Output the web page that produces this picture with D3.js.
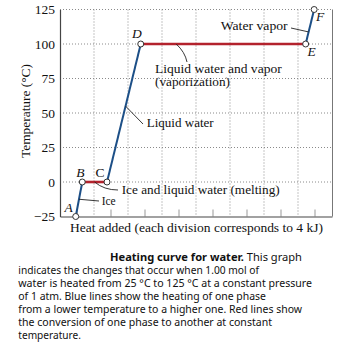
<!DOCTYPE html>
<html><head><meta charset="utf-8">
<script src="https://cdn.jsdelivr.net/npm/d3@7"></script>
<style>
body{margin:0;background:#fff;}
svg{display:block;}
</style></head>
<body>
<svg id="c" width="341" height="350"></svg>
<script>
// ---- data ----
const pointLabels = ["A", "B", "C", "D", "E", "F"];
const heatKJ = [1.85, 2.62, 5.53, 9.5, 28.9, 29.9];
const tempC = [-25, 0, 0, 100, 100, 125];
const phaseType = ["heat", "change", "heat", "change", "heat"]; // segment i: point i -> i+1
const yTicks = [-25, 0, 25, 50, 75, 100, 125];
const xDivisions = [0, 4, 8, 12, 16, 20, 24, 28, 32];
const segmentNames = ["Ice", "Ice and liquid water (melting)", "Liquid water", "Liquid water and vapor", "Water vapor"];
const captionBold = "Heating curve for water.";
const captionLines = [
  " This graph",
  "indicates the changes that occur when 1.00 mol of",
  "water is heated from 25 °C to 125 °C at a constant pressure",
  "of 1 atm. Blue lines show the heating of one phase",
  "from a lower temperature to a higher one. Red lines show",
  "the conversion of one phase to another at constant",
  "temperature."
];

const svg = d3.select("#c");
const x = d3.scaleLinear().domain([0, 32]).range([60, 332]);
const y = d3.scaleLinear().domain([-25, 125]).range([216.5, 9.5]);
const serif = "'Liberation Serif', 'Times New Roman', serif";
const FS = 13.5;
const pts = heatKJ.map((h, i) => ({h, t: tempC[i], label: pointLabels[i]}));

// grid
const g = svg.append("g");
g.selectAll("line.hg").data(yTicks.slice(1)).join("line")
  .attr("x1", x(0)).attr("x2", x(32)).attr("y1", d => y(d)).attr("y2", d => y(d))
  .attr("stroke", "#8a8a8a").attr("stroke-width", 1).attr("stroke-dasharray", "1,2");
g.selectAll("line.vg").data(xDivisions.slice(1, -1)).join("line")
  .attr("x1", d => x(d)).attr("x2", d => x(d)).attr("y1", y(125)).attr("y2", y(-25))
  .attr("stroke", "#8a8a8a").attr("stroke-width", 1).attr("stroke-dasharray", "1,2");
// minor ticks at half divisions
g.selectAll("line.mt").data(xDivisions.slice(0, -1).map(d => d + 2)).join("line")
  .attr("x1", d => x(d)).attr("x2", d => x(d)).attr("y1", y(-25)).attr("y2", y(-25) - 7)
  .attr("stroke", "#999").attr("stroke-width", 1);
// right border
g.append("line").attr("x1", x(32) + 0.5).attr("x2", x(32) + 0.5).attr("y1", y(125)).attr("y2", y(-25))
  .attr("stroke", "#777").attr("stroke-width", 1);

// axes
const yAxis = d3.axisLeft(y).tickValues(yTicks).tickSize(0).tickPadding(5)
  .tickFormat(d => d < 0 ? "\u2212" + Math.abs(d) : d);
const ya = svg.append("g").attr("transform", `translate(${x(0)},0)`).call(yAxis);
ya.select(".domain").attr("stroke", "#444").attr("stroke-width", 1.2);
ya.selectAll("text").attr("font-family", serif).attr("font-size", FS).attr("fill", "#111");
const xAxis = d3.axisBottom(x).tickValues([]).tickSize(0);
const xa = svg.append("g").attr("transform", `translate(0,${y(-25)})`).call(xAxis);
xa.select(".domain").attr("stroke", "#444").attr("stroke-width", 1.2);

svg.append("text").attr("font-family", serif).attr("font-size", FS).attr("fill", "#111")
  .attr("x", 70).attr("y", 232).attr("textLength", 253).attr("lengthAdjust", "spacingAndGlyphs")
  .text("Heat added (each division corresponds to 4 kJ)");
svg.append("text").attr("font-family", serif).attr("font-size", FS).attr("fill", "#111")
  .attr("transform", "translate(30,111) rotate(-90)").attr("text-anchor", "middle")
  .attr("textLength", 94).attr("lengthAdjust", "spacingAndGlyphs")
  .text("Temperature (\u00B0C)");

// segments
const segs = pts.slice(0, -1).map((p, i) => ({a: p, b: pts[i + 1], type: phaseType[i], name: segmentNames[i]}));
svg.selectAll("line.seg").data(segs).join("line")
  .attr("x1", d => x(d.a.h)).attr("y1", d => y(d.a.t))
  .attr("x2", d => x(d.b.h)).attr("y2", d => y(d.b.t))
  .attr("stroke", d => d.type === "heat" ? "#1c4f87" : "#b3222c")
  .attr("stroke-width", d => d.type === "heat" ? 2 : 2.6);

// point markers
svg.selectAll("circle.pt").data(pts).join("circle")
  .attr("cx", d => x(d.h)).attr("cy", d => y(d.t)).attr("r", 3)
  .attr("fill", "#fff").attr("stroke", "#333").attr("stroke-width", 1);

// point labels
const labelOff = {A: [-7, -5], B: [-2, -5.5], C: [-7, -5.5], D: [-4, -6], E: [6, 12], F: [6, 11]};
const labelItalic = {A: true, B: true, C: false, D: true, E: true, F: true};
svg.selectAll("text.pl").data(pts).join("text")
  .attr("font-family", serif).attr("font-size", FS).attr("fill", "#111")
  .attr("font-style", d => labelItalic[d.label] ? "italic" : "normal")
  .attr("text-anchor", "middle")
  .attr("x", d => x(d.h) + labelOff[d.label][0]).attr("y", d => y(d.t) + labelOff[d.label][1])
  .text(d => d.label);

// annotations: leader from a fraction along the segment to a text anchor
function along(s, f) { return [x(s.a.h) + (x(s.b.h) - x(s.a.h)) * f, y(s.a.t) + (y(s.b.t) - y(s.a.t)) * f]; }
const ann = [
  {seg: 0, f: 0.5, end: [99, 201], tx: 101.7, ty: 205, lines: ["Ice"], lens: [14], fs: FS, curve: false},
  {seg: 1, f: 0.5, mid: [104, 190], end: [118, 190], tx: 121.7, ty: 194, lines: ["Ice and liquid water (melting)"], lens: [158], fs: FS, curve: true},
  {seg: 2, f: 0.55, end: [143, 124], tx: 146.7, ty: 126.5, lines: ["Liquid water"], lens: [67], fs: FS, curve: false},
  {seg: 3, f: 0.215, mid: [185, 52], end: [187, 62], tx: 155, ty: 72.5, lines: ["Liquid water and vapor", "(vaporization)"], lens: [126.7, 75], fs: 12, curve: true},
  {seg: 4, f: 0.35, end: [291, 28], tx: 220.7, ty: 30, lines: ["Water vapor"], lens: [67], fs: FS, curve: false}
];
ann.forEach(a => {
  const s = segs[a.seg];
  const p0 = along(s, a.f);
  let path;
  if (a.curve) {
    path = `M${p0[0]},${p0[1]} Q${a.mid[0]},${a.mid[1]} ${a.end[0]},${a.end[1]}`;
  } else {
    path = `M${p0[0]},${p0[1]} L${a.end[0]},${a.end[1]}`;
  }
  svg.append("path").attr("d", path).attr("fill", "none").attr("stroke", "#222").attr("stroke-width", 0.9);
  a.lines.forEach((ln, i) => svg.append("text").attr("font-family", serif).attr("font-size", a.fs).attr("fill", "#111")
    .attr("x", a.tx).attr("y", a.ty + i * 13.4)
    .attr("textLength", a.lens[i]).attr("lengthAdjust", "spacingAndGlyphs").text(ln));
});

// caption
const sans = "'Noto Sans', 'DejaVu Sans', sans-serif";
const capY = [260.7, 273.5, 286.5, 299.5, 312.5, 325.5, 338.7];
const capEnds = [302, 259, 312, 266, 302, 272, 81];
const cap = svg.append("g").attr("font-family", sans).attr("font-size", 10).attr("fill", "#111");
const l0 = cap.append("text").attr("x", 110).attr("y", capY[0]);
l0.append("tspan").attr("font-weight", "bold").text(captionBold);
l0.append("tspan").text(captionLines[0]);
captionLines.slice(1).forEach((ln, i) => {
  cap.append("text").attr("x", 18.3).attr("y", capY[i + 1]).text(ln)
    .attr("textLength", capEnds[i + 1] - 18.3).attr("lengthAdjust", "spacingAndGlyphs");
});
l0.attr("textLength", capEnds[0] - 110).attr("lengthAdjust", "spacingAndGlyphs");
</script>
</body></html>
